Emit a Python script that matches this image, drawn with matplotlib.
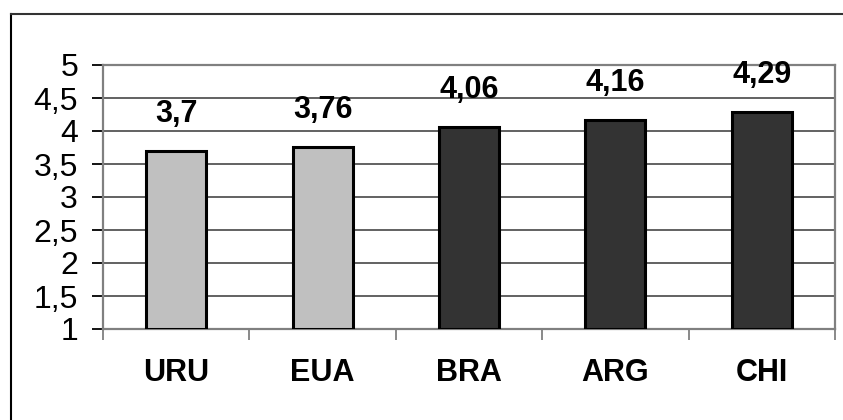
import numpy as np
import matplotlib.pyplot as plt
from matplotlib.lines import Line2D

plt.rcParams['font.family'] = ['Liberation Sans', 'DejaVu Sans']

paises = ['URU', 'EUA', 'BRA', 'ARG', 'CHI']
valores = [3.7, 3.76, 4.06, 4.16, 4.29]
rotulos = ['3,7', '3,76', '4,06', '4,16', '4,29']
cores = ['#c0c0c0', '#c0c0c0', '#333333', '#333333', '#333333']
yticks = [1, 1.5, 2, 2.5, 3, 3.5, 4, 4.5, 5]
ylabels = ['1', '1,5', '2', '2,5', '3', '3,5', '4', '4,5', '5']

fig = plt.figure(figsize=(8.43, 4.2), dpi=100)
W, H = 843, 420
ax = fig.add_axes([103 / W, 1 - 329 / H, (835 - 103) / W, (329 - 65) / H])

x = np.arange(len(paises))
ax.bar(x, [v - 1 for v in valores], bottom=1, width=0.41, color=cores,
       edgecolor='black', linewidth=2.2, zorder=3)

for xi, v, r in zip(x, valores, rotulos):
    ax.annotate(r, (xi, v), xytext=(0, 16), textcoords='offset points',
                ha='center', va='bottom', fontsize=22, fontweight='bold')

ax.set_xlim(-0.5, len(paises) - 0.5)
ax.set_ylim(1, 5)
ax.set_yticks(yticks)
ax.set_yticklabels(ylabels, fontsize=23)
ax.yaxis.grid(True, color='#555555', linewidth=1.3, zorder=0)
ax.set_axisbelow(True)

ax.set_xticks(np.arange(len(paises) + 1) - 0.5)
ax.set_xticklabels([])
ax.set_xticks(x, minor=True)
ax.set_xticklabels(paises, minor=True, fontsize=22, fontweight='bold')
ax.tick_params(axis='x', which='minor', length=0, pad=21)
ax.tick_params(axis='x', which='major', length=8, width=1.3, color='#808080', direction='out')
ax.tick_params(axis='y', length=8, width=1.3, color='black', pad=10)

for s in ax.spines.values():
    s.set_color('#808080')
    s.set_linewidth(1.6)

fig.add_artist(Line2D([11 / W, 11 / W], [0, 1 - 14 / H], color='black', linewidth=1.5))
fig.add_artist(Line2D([11 / W, 1], [1 - 14 / H, 1 - 14 / H], color='#333333', linewidth=1.5))

fig.savefig('out.png', dpi=100)
